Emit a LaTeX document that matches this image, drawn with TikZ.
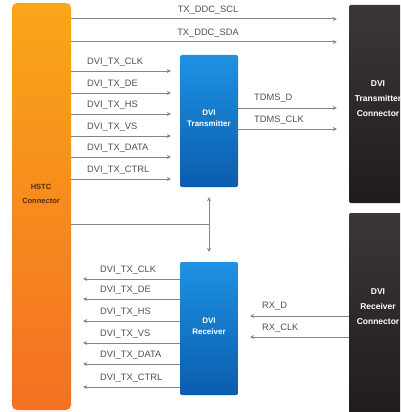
\documentclass[tikz,border=0pt]{standalone}
\usepackage{fontspec}
\setmainfont{Liberation Sans}
\usetikzlibrary{arrows.meta}
\definecolor{lineg}{HTML}{858585}
\definecolor{labg}{HTML}{505050}
\definecolor{orT}{HTML}{FAA61A}
\definecolor{orB}{HTML}{F37021}
\definecolor{blT}{HTML}{1E92E2}
\definecolor{blB}{HTML}{0B5CAD}
\definecolor{dkT}{HTML}{3C3737}
\definecolor{dkB}{HTML}{201C1C}
\definecolor{brn}{HTML}{5A2A05}
\tikzset{
  sig/.style={draw=lineg, line width=1pt, -{Stealth[length=4pt,width=4pt]}},
  lab/.style={anchor=west, inner sep=0pt, text=labg, font=\fontsize{9.3}{10}\selectfont},
  clab/.style={inner sep=0pt, text=labg, font=\fontsize{9.3}{10}\selectfont},
  orbox/.style={rounded corners=5pt, top color=orT, bottom color=orB, draw=none, inner sep=0pt},
  blbox/.style={rounded corners=2pt, top color=blT, bottom color=blB, draw=none, inner sep=0pt},
  dkbox/.style={rounded corners=2pt, top color=dkT, bottom color=dkB, draw=none, inner sep=0pt},
  wtxt/.style={align=center, text=white, inner sep=0pt, font=\bfseries\fontsize{8}{11}\selectfont},
  ctxt/.style={align=center, text=white, inner sep=0pt, font=\bfseries\fontsize{8.5}{15}\selectfont},
  htxt/.style={align=center, text=brn, inner sep=0pt, font=\bfseries\fontsize{7.5}{14}\selectfont}
}
\begin{document}
\begin{tikzpicture}[x=1pt,y=-1pt]
\useasboundingbox (0,0) rectangle (400,412);
\clip (0,0) rectangle (400,412);
\fill[white] (0,0) rectangle (400,412);

% boxes
\node[orbox, minimum width=59pt, minimum height=407pt] (hstc) at (41.5,206.5) {};
\node[blbox, minimum width=58pt, minimum height=132pt] (tx) at (209,121) {};
\node[blbox, minimum width=58pt, minimum height=133pt] (rx) at (209,328.5) {};
\node[dkbox, minimum width=62pt, minimum height=198pt] (txc) at (380,104) {};
\node[dkbox, minimum width=62pt, minimum height=201pt] (rxc) at (380,313.5) {};

% box texts
\node[htxt] (hstct) at (41,194) {HSTC\\Connector};
\node[wtxt] (txt) at (209,118.5) {DVI\\Transmitter};
\node[wtxt] (rxt) at (209,326) {DVI\\Receiver};
\node[ctxt] (txct) at (378,99) {DVI\\Transmitter\\Connector};
\node[ctxt] (rxct) at (378,306.5) {DVI\\Receiver\\Connector};

% DDC lines
\draw[sig] (hstc.east |- 0,19) -- ([xshift=-12pt]txc.west |- 0,19);
\node[clab] (l1) at (208,10) {TX\_DDC\_SCL};
\draw[sig] (hstc.east |- 0,42) -- ([xshift=-12pt]txc.west |- 0,42);
\node[clab] (l2) at (208,33) {TX\_DDC\_SDA};

% transmitter inputs
\foreach \yy/\tt [count=\i] in {71/DVI\_TX\_CLK,93/DVI\_TX\_DE,114/DVI\_TX\_HS,136/DVI\_TX\_VS,157/DVI\_TX\_DATA,179/DVI\_TX\_CTRL}{
  \draw[sig] (hstc.east |- 0,\yy) -- ([xshift=-9pt]tx.west |- 0,\yy);
  \node[lab] (ti\i) at (87,\yy-9) {\tt};
}

% TMDS
\draw[sig] (tx.east |- 0,108) -- ([xshift=-12pt]txc.west |- 0,108);
\node[lab] (l3) at (254,98) {TDMS\_D};
\draw[sig] (tx.east |- 0,129) -- ([xshift=-12pt]txc.west |- 0,129);
\node[lab] (l4) at (254,120) {TDMS\_CLK};

% bus
\coordinate (j) at (209,224);
\draw[draw=lineg, line width=1pt] (hstc.east |- j) -- (j);
\draw[sig] (j) -- ([yshift=-10pt]tx.south);
\draw[sig] (j) -- ([yshift=10pt]rx.north);

% receiver outputs
\foreach \yy/\tt [count=\i] in {279/DVI\_TX\_CLK,299/DVI\_TX\_DE,321/DVI\_TX\_HS,343/DVI\_TX\_VS,364/DVI\_TX\_DATA,387/DVI\_TX\_CTRL}{
  \draw[sig] (rx.west |- 0,\yy) -- ([xshift=12pt]hstc.east |- 0,\yy);
  \node[lab] (ro\i) at (100,\yy-9) {\tt};
}

% RX
\draw[sig] (rxc.west |- 0,316) -- ([xshift=12pt]rx.east |- 0,316);
\node[lab] (l5) at (262,306) {RX\_D};
\draw[sig] (rxc.west |- 0,337) -- ([xshift=12pt]rx.east |- 0,337);
\node[lab] (l6) at (262,328) {RX\_CLK};
\end{tikzpicture}
\end{document}
